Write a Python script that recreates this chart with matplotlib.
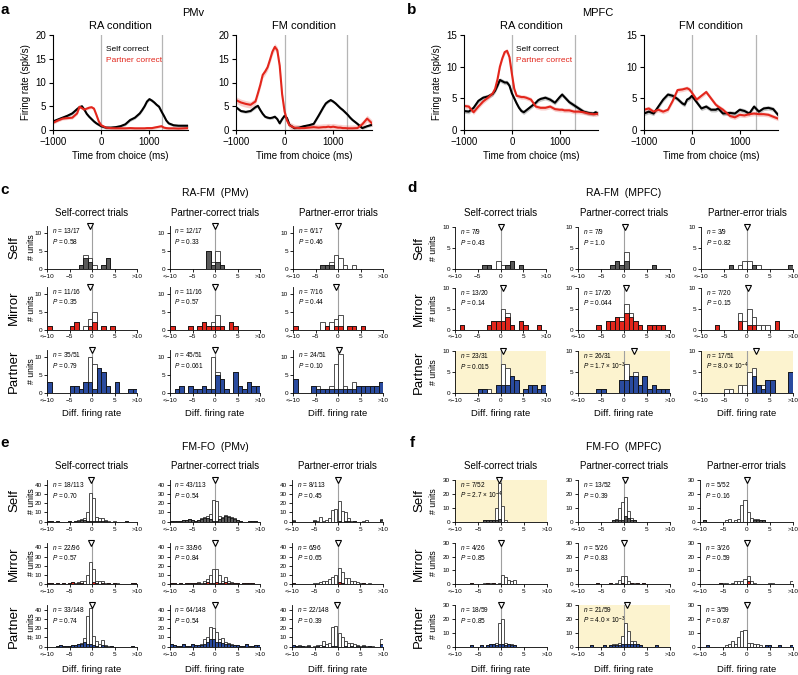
import matplotlib
matplotlib.use('Agg')
import matplotlib.pyplot as plt
import numpy as np

plt.rcParams['font.family'] = ['Liberation Sans', 'DejaVu Sans']
plt.rcParams['mathtext.fontset'] = 'custom'
plt.rcParams['mathtext.rm'] = 'Liberation Sans'
plt.rcParams['mathtext.it'] = 'Liberation Sans:italic'

# ---------------- data: firing-rate traces ----------------
A_RA_T = [-1000,-900,-800,-700,-600,-500,-450,-400,-350,-300,-250,-200,-150,-100,-50,0,100,200,300,400,500,600,700,800,850,900,950,1000,1050,1100,1150,1200,1250,1300,1350,1400,1500,1600,1700,1800]
A_RA_SELF = [1.8,2.2,2.6,3.0,3.5,4.4,4.8,5.0,4.3,3.4,2.8,2.3,1.8,1.4,1.1,0.8,0.5,0.5,0.6,0.8,1.2,2.1,2.6,3.5,4.2,5.0,6.0,6.5,6.2,5.8,5.3,4.9,3.9,3.0,2.0,1.4,1.0,0.9,0.9,0.9]
A_RA_PART = [1.5,2.0,2.4,2.5,2.6,3.5,4.9,4.6,4.3,4.5,4.7,4.8,4.5,3.2,1.8,1.0,0.5,0.4,0.35,0.35,0.35,0.4,0.35,0.35,0.35,0.35,0.4,0.4,0.4,0.5,0.6,0.7,0.8,0.5,0.4,0.35,0.35,0.3,0.35,0.4]
A_FM_T = [-1000,-900,-800,-700,-600,-550,-500,-450,-400,-350,-300,-250,-200,-150,-100,-50,0,50,100,200,300,400,500,600,700,800,850,900,950,1000,1050,1100,1150,1200,1250,1300,1350,1400,1500,1600,1700,1800]
A_FM_SELF = [4.8,4.0,3.8,4.0,4.8,5.1,4.2,3.4,2.8,2.6,2.5,2.6,2.8,2.3,1.4,2.3,3.0,2.5,1.1,0.4,0.5,0.8,1.0,1.3,3.0,4.8,5.6,6.0,6.3,6.0,5.6,5.1,4.6,4.2,3.7,3.2,2.6,2.1,1.3,0.4,0.8,1.1]
A_FM_PART = [6.3,5.8,5.5,5.3,6.0,7.7,9.5,11.6,12.3,13.2,14.8,16.5,17.5,16.8,13.5,7.5,3.9,2.0,1.0,0.5,0.4,0.4,0.5,0.6,0.5,0.6,0.6,0.7,0.6,0.7,0.6,0.5,0.5,0.4,0.4,0.35,0.35,0.35,0.4,1.2,2.4,1.4]
B_RA_T = [-1000,-900,-800,-700,-600,-500,-400,-350,-300,-250,-200,-150,-100,-50,0,50,100,150,200,250,300,400,500,550,600,700,800,900,1000,1050,1100,1200,1300,1400,1500,1600,1700,1750,1800]
B_RA_SELF = [3.0,2.9,3.5,4.6,5.1,5.3,5.7,6.2,7.0,7.9,7.7,7.5,7.5,7.0,5.8,5.0,4.2,3.5,3.0,2.8,3.1,3.7,4.3,4.7,4.9,5.1,4.8,4.3,5.2,5.6,5.2,4.4,3.9,3.4,2.9,2.7,2.6,2.8,2.6]
B_RA_PART = [3.8,3.7,2.8,3.7,4.5,5.1,5.8,6.5,8.0,10.0,11.3,12.3,12.5,11.5,8.9,6.5,5.4,5.3,5.2,5.2,5.1,4.8,3.7,3.6,3.5,3.5,3.7,3.3,3.2,3.2,3.1,3.1,2.9,2.9,2.8,2.6,2.5,2.5,2.6]
B_FM_T = [-1000,-900,-800,-700,-600,-500,-400,-300,-200,-150,-100,-50,0,100,200,300,400,500,550,650,800,900,1000,1100,1200,1300,1400,1500,1600,1700,1800]
B_FM_SELF = [2.6,2.9,2.6,3.7,4.8,5.6,5.4,4.9,4.2,4.0,4.8,5.0,5.4,4.4,3.4,3.7,3.2,3.2,3.4,2.6,2.7,2.6,3.2,3.0,2.6,3.7,2.9,3.4,3.5,3.3,2.4]
B_FM_PART = [3.2,3.4,2.9,3.2,2.9,3.2,4.6,6.3,6.4,6.5,6.6,6.4,5.9,4.8,5.4,6.0,5.0,4.0,3.7,3.2,2.2,2.0,2.4,2.3,2.5,2.6,2.5,2.5,2.4,2.1,1.8]
A_VLINES = [[0, 1270], [0, 1290]]
B_VLINES = [[0, 1310], [0, 1330]]
SEM_A = [0.3, 0.3, 0.3, 0.7]
SEM_B = [0.35, 0.35, 0.35, 0.35]

# ---------------- data: histograms ----------------
# c/d: 20 bins of width 1 from -10 to 10 ; e/f: 30 bins of width 2/3
COLS = ['Self-correct trials', 'Partner-correct trials', 'Partner-error trials']
ROWS = ['Self', 'Mirror', 'Partner']
XTICKLABELS = ['<\u221210', '\u22125', '0', '5', '>10']

C_SELF_TOT = [[0,0,0,0,0,0,0,1,4,3,1,0,1,3,0,0,0,0,0,0],
              [0,0,0,0,0,0,0,0,5,2,5,1,0,0,0,0,0,0,0,0],
              [0,0,0,0,0,0,1,1,2,4,3,1,0,1,0,0,0,0,0,0]]
C_SELF_SIG = [[0,0,0,0,0,0,0,1,3,2,0,0,1,3,0,0,0,0,0,0],
              [0,0,0,0,0,0,0,0,5,1,2,1,0,0,0,0,0,0,0,0],
              [0,0,0,0,0,0,1,1,1,0,0,0,0,0,0,0,0,0,0,0]]
C_MIRROR_TOT = [[1,0,0,0,0,1,2,0,1,3,5,0,1,0,1,0,0,0,0,0],
                [1,0,0,0,1,0,1,2,1,2,4,1,0,2,1,0,0,0,0,0],
                [1,0,0,0,0,0,2,1,2,3,4,0,1,1,0,1,0,0,0,0]]
C_MIRROR_SIG = [[1,0,0,0,0,1,2,0,0,1,2,0,1,0,1,0,0,0,0,0],
                [1,0,0,0,1,0,1,2,1,1,1,1,0,2,1,0,0,0,0,0],
                [1,0,0,0,0,0,0,1,0,1,1,0,1,1,0,1,0,0,0,0]]
C_PARTNER_TOT = [[3,0,0,0,0,2,2,1,3,10,8,7,6,2,0,3,0,0,1,1],
                 [0,1,2,0,2,1,1,2,1,10,6,4,1,0,6,2,1,3,2,2],
                 [4,0,0,0,2,2,1,1,2,8,11,2,1,3,2,2,2,2,2,3]]
C_PARTNER_SIG = [[3,0,0,0,0,2,2,1,3,3,1,7,6,2,0,3,0,0,1,1],
                 [0,1,2,0,2,1,1,2,1,1,5,4,1,0,6,2,1,3,2,2],
                 [4,0,0,0,2,1,1,1,1,1,1,1,1,1,2,2,2,2,2,3]]

D_SELF_TOT = [[0,0,0,0,0,0,1,1,0,2,1,1,2,0,1,0,0,0,0,0],
              [0,0,0,0,0,0,0,1,2,1,4,0,0,0,0,0,1,0,0,0],
              [0,0,0,0,0,0,1,0,1,2,2,1,1,0,0,0,0,0,0,1]]
D_SELF_SIG = [[0,0,0,0,0,0,1,1,0,0,0,1,2,0,1,0,0,0,0,0],
              [0,0,0,0,0,0,0,1,2,1,2,0,0,0,0,0,1,0,0,0],
              [0,0,0,0,0,0,1,0,0,0,0,1,0,0,0,0,0,0,0,1]]
D_MIRROR_TOT = [[0,1,0,0,0,0,0,1,2,2,5,4,1,0,2,1,0,0,1,0],
                [0,0,0,0,1,0,2,2,3,3,6,4,2,1,0,1,1,1,1,0],
                [0,0,0,1,0,0,0,0,4,2,5,3,1,1,1,0,2,0,0,0]]
D_MIRROR_SIG = [[0,1,0,0,0,0,0,1,2,2,2,3,1,0,2,1,0,0,1,0],
                [0,0,0,0,1,0,2,2,3,2,4,3,2,1,0,1,1,1,1,0],
                [0,0,0,1,0,0,0,0,2,0,1,1,0,0,0,0,2,0,0,0]]
D_PARTNER_TOT = [[0,0,0,0,0,1,1,1,0,2,7,6,4,3,0,1,2,2,1,2],
                 [0,0,0,0,1,1,0,0,0,3,7,4,5,2,4,1,2,1,1,1],
                 [0,0,0,0,0,1,1,0,2,2,5,6,2,2,3,3,0,0,0,5]]
D_PARTNER_SIG = [[0,0,0,0,0,1,1,0,0,2,2,2,4,3,0,1,2,2,1,2],
                 [0,0,0,0,1,1,0,0,0,3,3,4,4,2,4,1,2,1,1,1],
                 [0,0,0,0,0,0,0,0,0,0,0,4,2,1,3,3,0,0,0,5]]

E_SELF_TOT = [[1,1,0,1,0,0,0,1,0,1,2,3,4,11,31,26,5,4,4,2,1,0,1,0,0,0,1,0,0,0],
              [1,1,1,1,2,2,3,2,1,2,4,5,6,8,23,22,6,5,7,6,5,4,2,1,0,0,1,1,1,0],
              [2,0,0,0,0,0,0,2,1,5,1,2,4,13,14,22,12,10,4,1,1,0,0,1,2,0,0,0,0,3]]
E_SELF_SIG = [[1,1,0,1,0,0,0,1,0,1,1,2,2,1,1,1,1,1,1,1,0,0,0,0,0,0,1,0,0,0],
              [1,1,1,1,2,2,3,2,1,2,3,4,4,3,1,1,3,4,6,5,4,3,2,1,0,0,1,1,1,0],
              [1,0,0,0,0,0,0,1,0,0,0,0,0,0,0,1,0,1,1,0,1,0,0,0,0,0,0,0,0,2]]
E_MIRROR_TOT = [[1,1,0,1,0,1,0,1,2,1,2,3,3,10,24,16,3,3,3,1,1,0,1,1,0,0,0,0,1,1],
                [1,1,0,1,0,1,1,1,1,2,1,3,6,10,17,16,10,4,8,3,2,1,1,0,1,1,1,1,0,0],
                [1,0,0,0,0,0,0,1,1,2,3,4,6,8,10,18,13,7,7,4,3,2,1,1,0,1,0,0,0,0]]
E_MIRROR_SIG = [[1,1,0,1,0,1,0,1,2,0,1,1,0,0,0,2,1,0,1,0,1,0,1,0,0,0,0,0,1,1],
                [1,1,0,1,0,1,1,1,1,1,0,1,2,1,1,2,1,1,2,1,1,1,1,0,1,1,1,1,0,0],
                [1,0,0,0,0,0,0,0,0,0,0,0,0,0,0,2,1,0,0,0,0,0,0,1,0,0,0,0,0,0]]
E_PARTNER_TOT = [[0,0,0,1,2,1,1,1,2,2,3,4,9,33,42,12,6,3,7,2,1,1,0,0,0,0,0,0,1,0],
                 [3,2,1,1,3,1,1,3,2,2,3,8,10,21,20,16,8,9,5,4,3,2,2,1,1,3,1,1,2,2],
                 [2,1,2,1,1,2,0,1,2,2,6,3,4,21,22,15,11,6,4,4,3,2,1,2,1,1,1,0,0,8]]
E_PARTNER_SIG = [[0,0,0,1,2,1,1,1,2,2,3,3,5,3,3,2,1,0,2,1,0,1,0,0,0,0,0,0,1,0],
                 [3,2,1,1,3,1,1,3,2,2,2,3,5,8,8,5,5,4,3,3,2,2,2,1,1,3,1,1,2,2],
                 [2,1,1,1,0,1,0,0,1,0,1,0,0,1,1,0,0,1,0,1,0,1,0,1,0,1,0,0,0,3]]

F_SELF_TOT = [[0,0,0,0,0,0,0,0,0,1,1,1,1,10,28,11,1,0,0,0,0,0,0,0,0,0,0,0,0,0],
              [0,0,0,0,0,0,0,0,0,0,0,1,2,10,14,18,8,3,1,0,0,0,0,0,0,0,0,0,0,0],
              [0,1,0,0,0,0,0,0,1,2,0,1,2,12,16,7,3,2,2,1,1,0,0,0,0,0,0,0,0,0]]
F_SELF_SIG = [[0,0,0,0,0,0,0,0,0,1,1,1,1,1,2,0,0,0,0,0,0,0,0,0,0,0,0,0,0,0],
              [0,0,0,0,0,0,0,0,0,0,0,1,1,1,1,4,3,1,1,0,0,0,0,0,0,0,0,0,0,0],
              [0,1,0,0,0,0,0,0,0,0,0,0,0,0,0,0,0,1,1,1,1,0,0,0,0,0,0,0,0,0]]
F_MIRROR_TOT = [[0,0,0,0,0,1,0,0,0,1,1,1,1,0,1,7,5,3,2,3,0,0,0,0,0,0,0,0,0,0],
                [0,0,0,0,0,0,1,0,0,0,1,0,1,3,6,6,2,1,1,1,0,1,0,0,0,0,0,0,0,0],
                [0,0,0,0,0,0,1,1,1,0,1,2,2,2,4,6,2,1,0,0,0,0,1,1,0,0,0,0,0,2]]
F_MIRROR_SIG = [[0,0,0,0,0,1,0,0,0,0,1,0,1,0,0,0,0,0,0,0,0,0,0,0,0,0,0,0,0,0],
                [0,0,0,0,0,0,1,0,0,0,1,0,0,0,1,0,0,1,0,1,0,1,0,0,0,0,0,0,0,0],
                [0,0,0,0,0,0,1,0,0,0,0,0,0,0,0,2,0,0,0,0,0,0,0,0,0,0,0,0,0,0]]
F_PARTNER_TOT = [[0,0,0,0,0,1,0,0,1,0,1,2,2,3,17,20,3,2,2,1,0,0,0,0,0,0,0,0,0,0],
                 [0,0,0,0,1,0,0,0,1,0,1,2,2,3,8,17,11,4,4,2,1,0,0,0,0,1,0,0,0,0],
                 [0,0,1,0,0,0,0,0,1,2,4,2,7,11,12,3,3,2,2,1,0,1,1,0,0,1,0,0,0,1]]
F_PARTNER_SIG = [[0,0,0,0,0,1,0,0,1,0,1,2,2,1,2,2,1,2,1,1,0,0,0,0,0,0,0,0,0,0],
                 [0,0,0,0,1,0,0,0,1,0,1,1,1,1,2,2,2,2,2,2,1,0,0,0,0,1,0,0,0,0],
                 [0,0,1,0,0,0,0,0,0,0,0,0,0,0,0,0,0,0,0,0,0,1,1,0,0,1,0,0,0,1]]

C_MED = [[-0.5, 0.0, 0.0], [-0.5, 0.0, -0.4], [0.0, 0.0, 0.2]]
D_MED = [[0.2, 0.2, 0.0], [0.6, 0.4, 0.2], [0.6, 2.2, 2.0]]
E_MED = [[-0.2, 0.0, 0.15], [-0.2, 0.0, 0.15], [0.0, 0.0, -0.1]]
F_MED = [[-0.35, 0.2, 0.1], [0.0, 0.0, 0.0], [0.0, 0.6, 0.0]]

C_N = [['13/17', '12/17', '6/17'], ['11/16', '11/16', '7/16'], ['35/51', '45/51', '24/51']]
C_P = [['0.58', '0.33', '0.46'], ['0.35', '0.57', '0.44'], ['0.79', '0.061', '0.10']]
D_N = [['7/9', '7/9', '3/9'], ['13/20', '17/20', '7/20'], ['23/31', '26/31', '17/51']]
D_P = [['0.43', '1.0', '0.82'], ['0.14', '0.044', '0.15'],
       ['0.015', '1.7 \u00d7 10$^{\u22123}$', '8.0 \u00d7 10$^{\u22124}$']]
E_N = [['18/113', '43/113', '8/113'], ['22/96', '33/96', '6/96'], ['33/148', '64/148', '22/148']]
E_P = [['0.70', '0.54', '0.45'], ['0.57', '0.84', '0.65'], ['0.74', '0.54', '0.39']]
F_N = [['7/52', '13/52', '5/52'], ['4/26', '5/26', '3/26'], ['18/59', '21/59', '3/59']]
F_P = [['2.7 \u00d7 10$^{\u22124}$', '0.39', '0.16'], ['0.85', '0.83', '0.59'],
       ['0.85', '4.0 \u00d7 10$^{\u22123}$', '0.87']]
D_SHADE = [[False, False, False], [False, False, False], [True, True, True]]
F_SHADE = [[True, False, False], [False, False, False], [False, True, False]]
NO_SHADE = [[False] * 3] * 3

ROW_COLORS = ['#5a5a5a', '#e3261c', '#2a4b9f']
YELLOW = '#fcf3cf'

# ---------------- figure ----------------
W, H = 798, 675
fig = plt.figure(figsize=(W / 100, H / 100), dpi=100)


def px_axes(l, t, r, b):
    return fig.add_axes([l / W, 1 - b / H, (r - l) / W, (b - t) / H])


def ftext(x, y, s, **kw):
    fig.text(x / W, 1 - y / H, s, **kw)


def line_panel(box, traces, ylim, yticks, vlines, title, ylabel, legend):
    ax = px_axes(*box)
    for v in vlines:
        ax.axvline(v, color='#b5b5b5', lw=0.9, zorder=0)
    for t, y, sem, col in traces:
        t = np.asarray(t, float)
        y = np.asarray(y, float)
        ax.fill_between(t, y - sem, y + sem, color=col, alpha=0.22, lw=0, zorder=1)
        ax.plot(t, y, color=col, lw=1.5, zorder=2)
    ax.set_xlim(-1000, 1800)
    ax.set_ylim(*ylim)
    ax.set_xticks([-1000, 0, 1000])
    ax.set_xticklabels(['\u22121000', '0', '1000'])
    ax.set_yticks(yticks)
    for s in ['top', 'right']:
        ax.spines[s].set_visible(False)
    for s in ['left', 'bottom']:
        ax.spines[s].set_linewidth(0.8)
    ax.tick_params(labelsize=7, length=3, width=0.8, pad=2)
    ax.set_xlabel('Time from choice (ms)', fontsize=7, labelpad=3)
    ax.set_title(title, fontsize=8, pad=4)
    if ylabel:
        ax.set_ylabel('Firing rate (spk/s)', fontsize=7, labelpad=3)
    if legend:
        ax.text(0.39, 0.85, 'Self correct', color='black', fontsize=6, transform=ax.transAxes, va='center')
        ax.text(0.39, 0.73, 'Partner correct', color='#e3261c', fontsize=6, transform=ax.transAxes, va='center')
    return ax


line_panel((53, 35, 188, 130), [(A_RA_T, A_RA_SELF, SEM_A[0], 'black'), (A_RA_T, A_RA_PART, SEM_A[1], '#e3261c')],
           (0, 20), [0, 5, 10, 15, 20], A_VLINES[0], 'RA condition', True, True)
line_panel((236, 35, 372, 130), [(A_FM_T, A_FM_SELF, SEM_A[2], 'black'), (A_FM_T, A_FM_PART, SEM_A[3], '#e3261c')],
           (0, 20), [0, 5, 10, 15, 20], A_VLINES[1], 'FM condition', False, False)
line_panel((464, 35, 598, 130), [(B_RA_T, B_RA_SELF, SEM_B[0], 'black'), (B_RA_T, B_RA_PART, SEM_B[1], '#e3261c')],
           (0, 15), [0, 5, 10, 15], B_VLINES[0], 'RA condition', True, True)
line_panel((644, 35, 778, 130), [(B_FM_T, B_FM_SELF, SEM_B[2], 'black'), (B_FM_T, B_FM_PART, SEM_B[3], '#e3261c')],
           (0, 15), [0, 5, 10, 15], B_VLINES[1], 'FM condition', False, False)
ftext(193, 13, 'PMv', fontsize=8, ha='center', va='center')
ftext(598, 13, 'MPFC', fontsize=8, ha='center', va='center')


def hist_panel(box, tot, sig, color, ylim, yticks, med, ntxt, ptxt, shade):
    ax = px_axes(*box)
    if shade:
        ax.set_facecolor(YELLOW)
    tot = np.asarray(tot, float)
    sig = np.asarray(sig, float)
    bw = 20.0 / len(tot)
    edges = -10 + np.arange(len(tot)) * bw
    m = tot > 0
    ax.bar(edges[m], tot[m], width=bw, align='edge', color='white', edgecolor='#333333', lw=0.6, zorder=2)
    m2 = sig > 0
    ax.bar(edges[m2], sig[m2], width=bw, align='edge', color=color, edgecolor='#111111', lw=0.6, zorder=3)
    ax.axvline(0, color='#a0a0a0', lw=0.8, zorder=1)
    ax.plot([med], [ylim[1]], marker='v', ms=4.5, mfc='white', mec='black', mew=0.8,
            clip_on=False, zorder=6)
    ax.set_xlim(-10, 10)
    ax.set_ylim(*ylim)
    ax.set_xticks([-10, -5, 0, 5, 10])
    ax.set_xticklabels(XTICKLABELS)
    ax.set_yticks(yticks)
    for s in ['top', 'right']:
        ax.spines[s].set_visible(False)
    for s in ['left', 'bottom']:
        ax.spines[s].set_linewidth(0.6)
    ax.tick_params(labelsize=4.6, length=2, width=0.6, pad=1.5)
    ax.text(0.05, 0.89, '$n$ = ' + ntxt, fontsize=4.7, transform=ax.transAxes, va='center', zorder=7)
    ax.text(0.05, 0.64, '$P$ = ' + ptxt, fontsize=4.7, transform=ax.transAxes, va='center', zorder=7)
    return ax


def hist_grid(cols_x, row_bottoms, height, tots, sigs, meds, ns, ps, shades, ylim, yticks,
              group_title, title_y, coltitle_y, rowlab_x, ulab_x, xlabel_y):
    for r in range(3):
        for c in range(3):
            l, rr = cols_x[c]
            b = row_bottoms[r]
            hist_panel((l, b - height, rr, b), tots[r][c], sigs[r][c], ROW_COLORS[r], ylim, yticks,
                       meds[r][c], ns[r][c], ps[r][c], shades[r][c])
        yc = row_bottoms[r] - height / 2
        ftext(rowlab_x, yc, ROWS[r], fontsize=9.5, rotation=90, ha='center', va='center')
        ftext(ulab_x, yc, '# units', fontsize=6.3, rotation=90, ha='center', va='center')
    for c in range(3):
        xc = (cols_x[c][0] + cols_x[c][1]) / 2
        ftext(xc, coltitle_y, COLS[c], fontsize=7, ha='center', va='center')
        ftext(xc, xlabel_y, 'Diff. firing rate', fontsize=6.8, ha='center', va='center')
    xc = (cols_x[0][0] + cols_x[2][1]) / 2
    ftext(xc, title_y, group_title, fontsize=7.5, ha='center', va='center')


CD_ROWS = [269, 329.5, 393]
EF_ROWS = [521.7, 584.2, 646.7]
hist_grid([(47, 137), (170, 260), (293, 383)], CD_ROWS, 43,
          [C_SELF_TOT, C_MIRROR_TOT, C_PARTNER_TOT], [C_SELF_SIG, C_MIRROR_SIG, C_PARTNER_SIG],
          C_MED, C_N, C_P, NO_SHADE, (0, 12), [0, 5, 10],
          'RA-FM  (PMv)', 193, 213, 14, 31, 413)
hist_grid([(455, 546), (578, 670), (701, 793)], CD_ROWS, 42,
          [D_SELF_TOT, D_MIRROR_TOT, D_PARTNER_TOT], [D_SELF_SIG, D_MIRROR_SIG, D_PARTNER_SIG],
          D_MED, D_N, D_P, D_SHADE, (0, 10), [0, 5, 10],
          'RA-FM  (MPFC)', 193, 213, 419, 434, 413)
hist_grid([(47, 137), (170, 260), (292, 383)], EF_ROWS, 41.5,
          [E_SELF_TOT, E_MIRROR_TOT, E_PARTNER_TOT], [E_SELF_SIG, E_MIRROR_SIG, E_PARTNER_SIG],
          E_MED, E_N, E_P, NO_SHADE, (0, 45), [0, 10, 20, 30, 40],
          'FM-FO  (PMv)', 447, 466, 14, 31, 669)
hist_grid([(455, 547), (578, 670), (700, 793)], EF_ROWS, 41.5,
          [F_SELF_TOT, F_MIRROR_TOT, F_PARTNER_TOT], [F_SELF_SIG, F_MIRROR_SIG, F_PARTNER_SIG],
          F_MED, F_N, F_P, F_SHADE, (0, 30), [0, 10, 20, 30],
          'FM-FO  (MPFC)', 447, 466, 419, 434, 669)

for lab, x, y in [('a', 5, 10), ('b', 412, 10), ('c', 5, 190), ('d', 412, 188), ('e', 5, 443), ('f', 412, 443)]:
    ftext(x, y, lab, fontsize=11, fontweight='bold', ha='center', va='center')

fig.savefig('out.png', dpi=100)
